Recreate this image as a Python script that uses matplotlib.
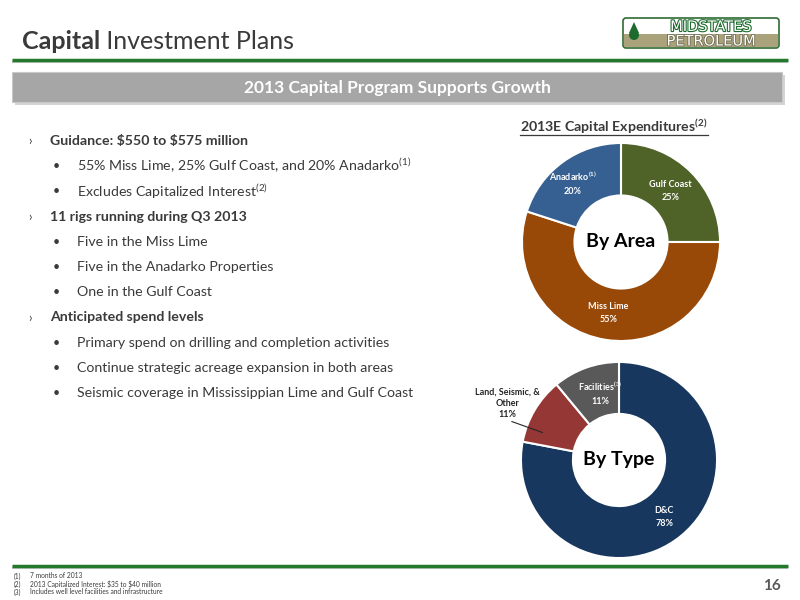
# Capital Investment Plans - slide recreation
import numpy as np
import matplotlib.pyplot as plt
from matplotlib.patches import Rectangle, FancyBboxPatch, Polygon, Circle
import matplotlib.patheffects as pe

plt.rcParams['font.family'] = ['Lato', 'DejaVu Sans']
plt.rcParams['mathtext.default'] = 'regular'

# data
area_labels = ['Gulf Coast', 'Miss Lime', 'Anadarko$^{(1)}$']
area_values = [25, 55, 20]
area_colors = ['#4F6228', '#984807', '#366092']

type_labels = ['D&C', 'Land, Seismic, &\nOther', 'Facilities$^{(3)}$']
type_values = [78, 11, 11]
type_colors = ['#17375E', '#953735', '#595959']

bullet_levels = [0, 1, 1, 0, 1, 1, 1, 0, 1, 1, 1]
bullet_texts = [
    'Guidance: \\$550 to \\$575 million',
    '55% Miss Lime, 25% Gulf Coast, and 20% Anadarko$^{(1)}$',
    'Excludes Capitalized Interest$^{(2)}$',
    '11 rigs running during Q3 2013',
    'Five in the Miss Lime',
    'Five in the Anadarko Properties',
    'One in the Gulf Coast',
    'Anticipated spend levels',
    'Primary spend on drilling and completion activities',
    'Continue strategic acreage expansion in both areas',
    'Seismic coverage in Mississippian Lime and Gulf Coast',
]

footnotes = ['7 months of 2013',
             '2013 Capitalized Interest: \\$35 to \\$40 million',
             'Includes well level facilities and infrastructure']

green = '#23782B'
txt = '#3A3A3A'

fig = plt.figure(figsize=(8, 6), dpi=100)
bg = fig.add_axes([0, 0, 1, 1])
bg.set_xlim(0, 800)
bg.set_ylim(600, 0)
bg.axis('off')

# header
t1 = bg.text(22, 49, 'Capital', fontsize=18, fontweight='bold', color=txt)
bg.annotate(' Investment Plans', xy=(1, 0), xycoords=t1, va='bottom',
            fontsize=18, color=txt)
bg.plot([12, 788], [62, 62], color='#C8C8C8', lw=1.5, solid_capstyle='butt')
bg.plot([12, 788], [60, 60], color=green, lw=2.5, solid_capstyle='butt')

# logo
bg.add_patch(FancyBboxPatch((623, 18), 156, 30, boxstyle='round,pad=0,rounding_size=3',
                            fc='white', ec='#2F6B34', lw=1.2))
bg.add_patch(Rectangle((624, 34), 154, 13, fc='#A9A27B', ec='none'))
bg.add_patch(Polygon([[634, 22], [629, 33], [639, 33]], closed=True, fc='#1E6B2E', ec='none'))
bg.add_patch(Circle((634, 35), 5, fc='#1E6B2E', ec='none'))
bg.text(711, 26.5, 'MIDSTATES', fontsize=10.5, color='white', ha='center', va='center',
        fontfamily='DejaVu Sans',
        path_effects=[pe.withStroke(linewidth=1.6, foreground='#1E6B2E')])
bg.text(711, 41, 'PETROLEUM', fontsize=10.5, color='white', ha='center', va='center',
        fontfamily='DejaVu Sans',
        path_effects=[pe.withStroke(linewidth=1.2, foreground='#6E6A4E')])

# banner
bg.add_patch(Rectangle((15, 75), 770, 30, fc='#D4D4D4', ec='none'))
bg.add_patch(Rectangle((12, 72), 770, 30, fc='#A6A6A6', ec='#C8C8C8', lw=0.8))
bg.text(397, 87.5, '2013 Capital Program Supports Growth', fontsize=12.5,
        fontweight='bold', color='white', ha='center', va='center')

# bullets
y = 141
for lvl, s in zip(bullet_levels, bullet_texts):
    if lvl == 0:
        bg.text(28, y, '›', fontsize=9, color=txt, va='center')
        bg.text(50, y, s, fontsize=10.2, fontweight='bold', color=txt, va='center')
    else:
        bg.text(53, y, '•', fontsize=9, color=txt, va='center')
        bg.text(77, y, s, fontsize=10.2, color=txt, va='center')
    y += 25.2

# chart title with underline
tt = bg.text(614, 132, '2013E Capital Expenditures$^{(2)}$', fontsize=10.2,
             fontweight='bold', color=txt, ha='center', va='baseline')
fig.canvas.draw()
bb = tt.get_window_extent().transformed(bg.transData.inverted())
bg.plot([bb.x0, bb.x1], [134.5, 134.5], color=txt, lw=0.9)


def donut(ax, values, colors, labels, center_text, spots):
    # spots: (distance from centre, angle nudge in degrees) for each label
    wedges, _ = ax.pie(values, colors=colors, startangle=90, counterclock=False,
                       radius=1, wedgeprops=dict(width=0.53, edgecolor='white', linewidth=1.5))
    ax.set_xlim(-1.02, 1.02)
    ax.set_ylim(-1.02, 1.02)
    ax.text(0, 0, center_text, fontsize=14, fontweight='bold', color='black',
            ha='center', va='center')
    for w, lab, v, sp in zip(wedges, labels, values, spots):
        if sp is None:
            continue
        d, nudge = sp
        ang = np.deg2rad((w.theta1 + w.theta2) / 2 + nudge)
        ax.text(d * np.cos(ang), d * np.sin(ang), f'{lab}\n{v}%', fontsize=6.5,
                fontweight='bold', color='white', ha='center', va='center',
                linespacing=1.6)
    return wedges


ax1 = fig.add_axes([520 / 800, (600 - 343) / 600, 202 / 800, 202 / 600])
donut(ax1, area_values, area_colors, area_labels, 'By Area',
      [(0.72, 1), (0.73, -1), (0.77, 3)])

ax2 = fig.add_axes([519 / 800, (600 - 560) / 600, 200 / 800, 200 / 600])
w2 = donut(ax2, type_values, type_colors, type_labels, 'By Type',
           [(0.74, -1), None, (0.71, -4)])
ax2.annotate(f'{type_labels[1]}\n{type_values[1]}%', xy=(-0.78, 0.28), xytext=(-1.14, 0.58),
             fontsize=6.5, fontweight='bold', color='#262626', ha='center', va='center',
             linespacing=1.3,
             arrowprops=dict(arrowstyle='-', color='#262626', lw=0.8,
                             shrinkA=0, shrinkB=0, relpos=(0.45, 0)),
             annotation_clip=False)

# footer
bg.plot([12, 788], [568, 568], color='#C8C8C8', lw=1.5, solid_capstyle='butt')
bg.plot([12, 788], [566, 566], color=green, lw=2.5, solid_capstyle='butt')
for i, f in enumerate(footnotes):
    bg.text(14, 576 + 8 * i, f'({i + 1})', fontsize=4.8, color=txt, va='center')
    bg.text(30, 576 + 8 * i, f, fontsize=4.8, color=txt, va='center')
bg.text(781, 586, '16', fontsize=11, fontweight='bold', color='#595959',
        ha='right', va='center')

fig.savefig('out.png', dpi=100)
